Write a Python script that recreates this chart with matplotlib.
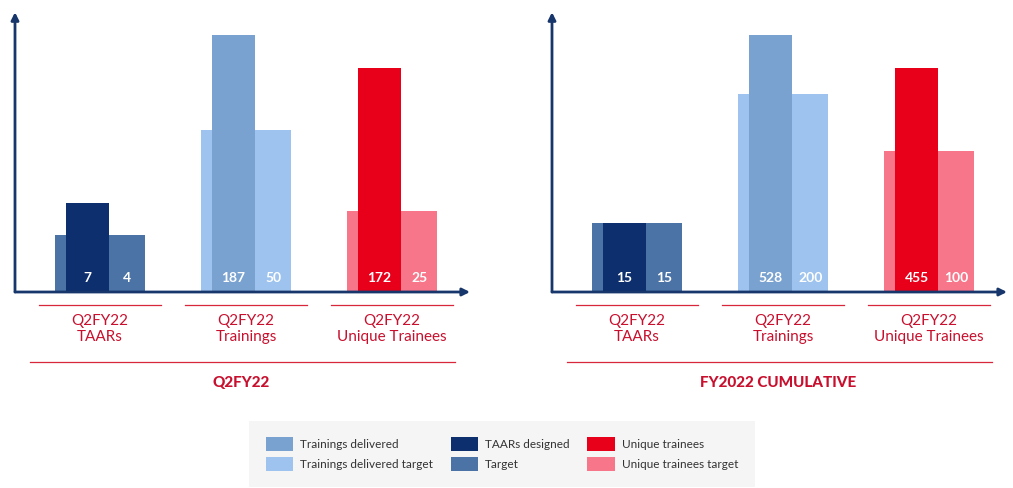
import matplotlib.pyplot as plt
from matplotlib.patches import Patch
from matplotlib.transforms import blended_transform_factory

plt.rcParams['font.family'] = ['Lato', 'DejaVu Sans']

# categories
groups = ['Q2FY22\nTAARs', 'Q2FY22\nTrainings', 'Q2FY22\nUnique Trainees']

# printed values
q2_values = [7, 187, 172]
q2_targets = [4, 50, 25]
cum_values = [15, 528, 455]
cum_targets = [15, 200, 100]

# drawn bar heights (the source chart is not to scale), chart units
q2_heights = [89, 257, 224]
q2_target_heights = [57, 162, 81]
cum_heights = [69, 257, 224]
cum_target_heights = [69, 198, 141]

panel_titles = ['Q2FY22', 'FY2022 CUMULATIVE']

# colours per group: (actual, target)
actual_colors = ['#0D2F6E', '#7AA2D1', '#E8001B']
target_colors = ['#4B73A6', '#9DC3EE', '#F7768A']

legend_labels = ['Trainings delivered', 'Trainings delivered target',
                 'TAARs designed', 'Target',
                 'Unique trainees', 'Unique trainees target']
legend_colors = ['#7AA2D1', '#9DC3EE', '#0D2F6E', '#4B73A6', '#E8001B', '#F7768A']

navy = '#17366B'
red_text = '#C8102E'
red_line = '#D8263A'

W, H = 1013, 488
fig = plt.figure(figsize=(W / 100, H / 100), dpi=100)

tw = 0.62   # target bar width
aw = 0.30   # actual bar width
off = -0.086


def draw_panel(ax, values, targets, heights, target_heights, title):
    x = range(len(groups))
    for i in x:
        ax.bar(i, target_heights[i], width=tw, color=target_colors[i], zorder=1)
        ax.bar(i + off, heights[i], width=aw, color=actual_colors[i], zorder=2)
        ax.text(i + off, 14, str(values[i]), color='white', fontsize=10,
                fontweight='bold', ha='center', va='center', zorder=3)
        # target label sits in the visible part of the target bar
        right_a = i + off + aw / 2
        right_t = i + tw / 2
        ax.text((right_a + right_t) / 2, 14, str(targets[i]), color='white',
                fontsize=10, fontweight='bold', ha='center', va='center', zorder=3)

    ax.set_xlim(-0.582, 2.534)
    ax.set_ylim(0, 277)
    for s in ax.spines.values():
        s.set_visible(False)
    ax.set_xticks([])
    ax.set_yticks([])
    ax.patch.set_alpha(0)

    # axes with arrows
    ax.annotate('', xy=(1, 0), xytext=(0, 0), xycoords='axes fraction',
                arrowprops=dict(arrowstyle='-|>', color=navy, lw=2, mutation_scale=11,
                                shrinkA=0, shrinkB=0))
    ax.annotate('', xy=(0, 1.01), xytext=(0, 0), xycoords='axes fraction',
                arrowprops=dict(arrowstyle='-|>', color=navy, lw=2, mutation_scale=11,
                                shrinkA=0, shrinkB=0))

    tr = blended_transform_factory(ax.transData, ax.transAxes)
    for i in x:
        ax.plot([i - 0.42, i + 0.42], [-0.047, -0.047], color=red_line, lw=0.9,
                transform=tr, clip_on=False)
        ax.text(i, -0.134, groups[i], color=red_text, fontsize=11, ha='center',
                va='center', linespacing=1.15, transform=tr)
    ax.plot([-0.48, 2.43], [-0.253, -0.253], color=red_line, lw=0.9,
            transform=tr, clip_on=False)
    ax.text(0.97, -0.329, title, color=red_text, fontsize=11, fontweight='black',
            ha='center', va='center', transform=tr)


ax1 = fig.add_axes([15 / W, (H - 292) / H, 455 / W, 277 / H])
draw_panel(ax1, q2_values, q2_targets, q2_heights, q2_target_heights, panel_titles[0])

ax2 = fig.add_axes([552 / W, (H - 292) / H, 455 / W, 277 / H])
draw_panel(ax2, cum_values, cum_targets, cum_heights, cum_target_heights, panel_titles[1])

handles = [Patch(facecolor=c, edgecolor='none') for c in legend_colors]
leg = fig.legend(handles, legend_labels, ncol=3, loc='center',
                 bbox_to_anchor=(502 / W, 1 - 454 / H), fontsize=8.5,
                 handlelength=2.3, handleheight=1.4, handletextpad=0.6,
                 labelspacing=0.5, columnspacing=1.5, borderpad=1.4,
                 frameon=True, fancybox=False)
leg.get_frame().set_facecolor('#F3F3F3')
leg.get_frame().set_edgecolor('none')
for t in leg.get_texts():
    t.set_color('#333333')

fig.savefig('out.png', dpi=100)
